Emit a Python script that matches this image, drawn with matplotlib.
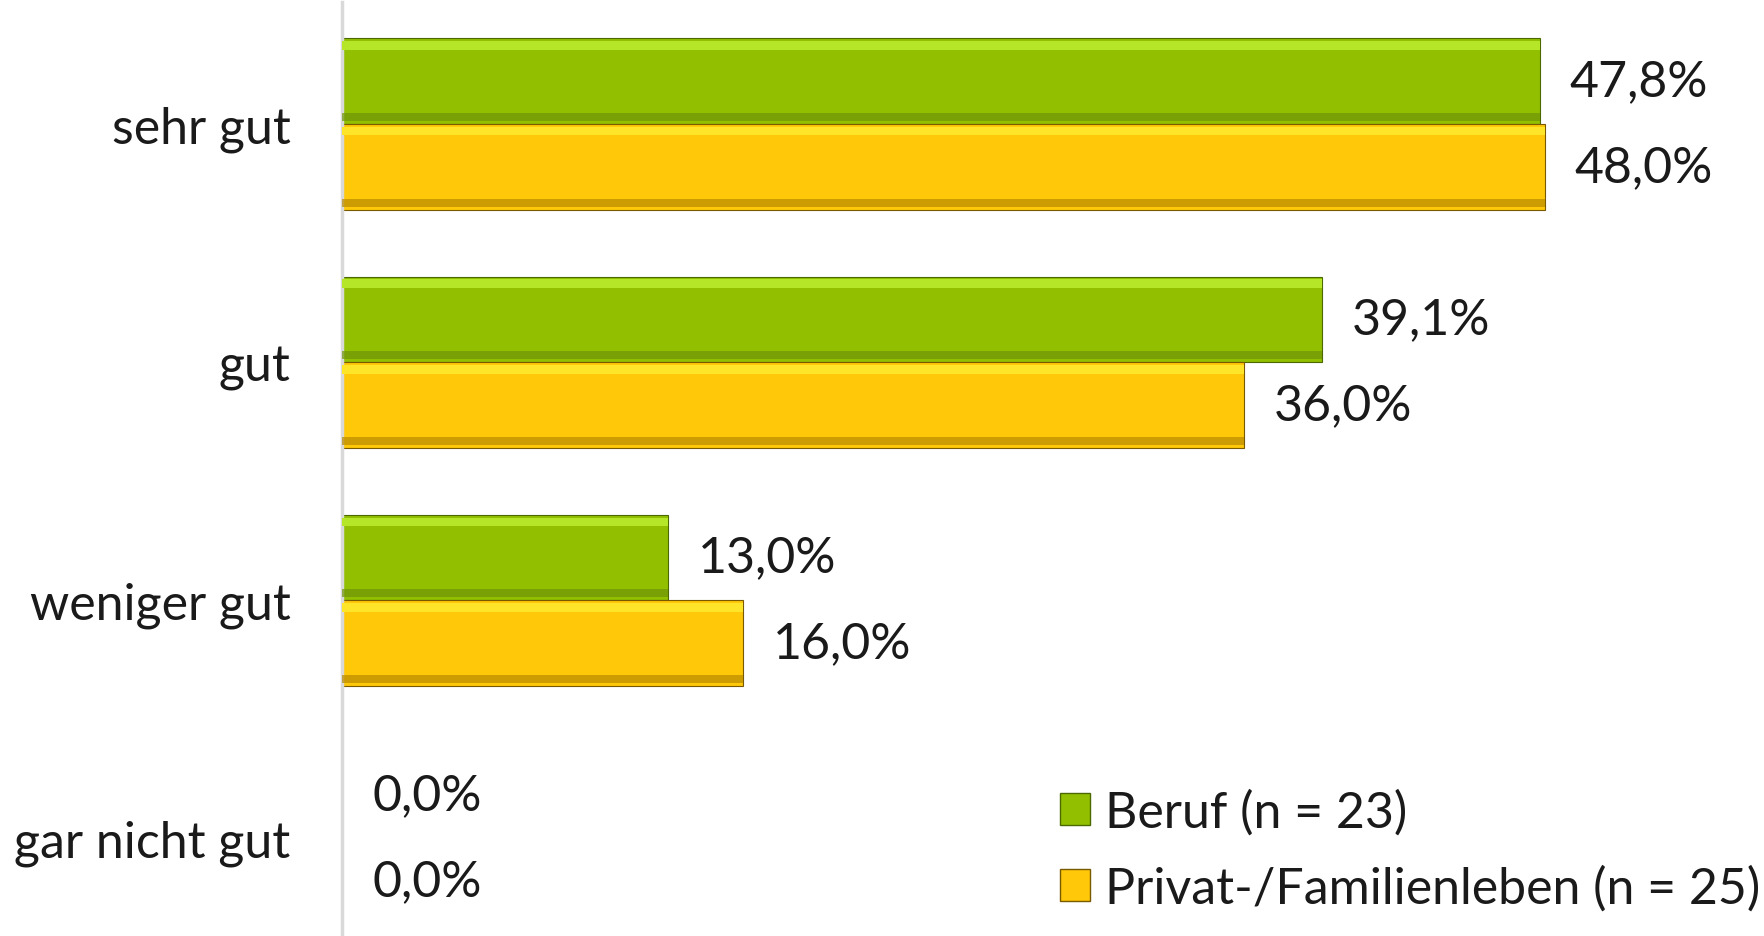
import matplotlib.pyplot as plt
import numpy as np
from matplotlib.patches import Patch

categories = ["sehr gut", "gut", "weniger gut", "gar nicht gut"]
beruf = [47.8, 39.1, 13.0, 0.0]
privat = [48.0, 36.0, 16.0, 0.0]
series_labels = ["Beruf (n = 23)", "Privat-/Familienleben (n = 25)"]

plt.rcParams["font.family"] = ["Lato", "DejaVu Sans"]

fig = plt.figure(figsize=(17.65, 9.37), dpi=100)
ax = fig.add_axes([342 / 1765, 0, (1765 - 342) / 1765, 934 / 937])

y = np.arange(len(categories))
h = 0.36

styles = [
    (beruf, -h / 2, "#92c000", "#b6e628", "#6f9508", "#4a6a00"),
    (privat, h / 2, "#ffc808", "#ffe52a", "#b88a00", "#7a5a00"),
]
for vals, off, face, light, dark, edge in styles:
    ax.barh(y + off, vals, height=h, color=face, edgecolor=edge, linewidth=0.8, zorder=2)
    # bevel: light top strip, dark bottom strip
    ax.barh(y + off - h / 2 + 0.03, vals, height=0.035, color=light, linewidth=0, zorder=3)
    ax.barh(y + off + h / 2 - 0.03, vals, height=0.035, color=dark, linewidth=0, alpha=0.7, zorder=3)
    for yi, v in zip(y, vals):
        ax.text(v + 1.2, yi + off, f"{v:.1f}%".replace(".", ","), va="center", ha="left",
                fontsize=36, color="#1a1a1a")

ax.set_xlim(0, 56.8)
ax.set_ylim(3.41, -0.513)
ax.set_yticks(y)
ax.set_yticklabels(categories, fontsize=36, color="#1a1a1a")
ax.tick_params(axis="y", length=0, pad=37)
ax.set_xticks([])
for s in ["top", "right", "bottom"]:
    ax.spines[s].set_visible(False)
ax.spines["left"].set_color("#d9d9d9")
ax.spines["left"].set_linewidth(2.5)

handles = [Patch(facecolor="#92c000", edgecolor="#4a6a00"),
           Patch(facecolor="#ffc808", edgecolor="#7a5a00")]
leg = fig.legend(handles, series_labels, loc="lower right", bbox_to_anchor=(1.003, 0.015),
                 frameon=False, fontsize=36, handlelength=0.6, handleheight=0.6,
                 handletextpad=0.3, labelspacing=0.6, borderaxespad=0.0, borderpad=0.2)
for t in leg.get_texts():
    t.set_color("#1a1a1a")

fig.savefig("out.png", dpi=100)
